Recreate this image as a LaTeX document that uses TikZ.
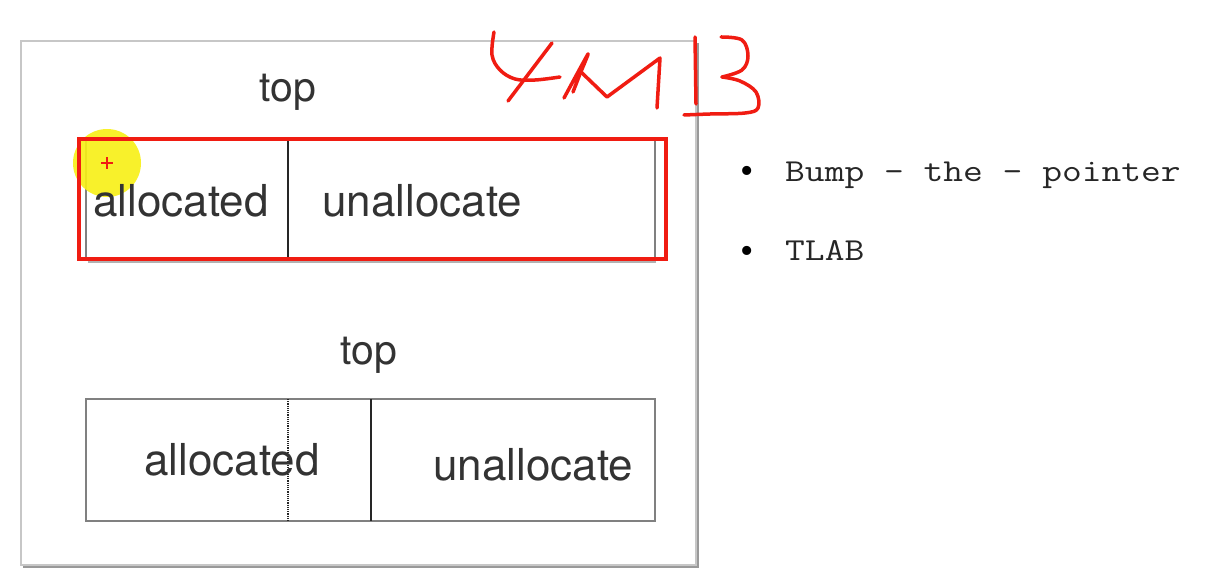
\documentclass[tikz,border=0pt]{standalone}
\usepackage{fontspec}
\setmainfont{TeX Gyre Heros}
\newfontfamily\serf{Liberation Serif}
\definecolor{inkred}{RGB}{240,28,18}
\definecolor{hiyel}{RGB}{248,240,20}
\begin{document}
\begin{tikzpicture}[x=1pt,y=-1pt,
  frame/.style={draw=black!22, line width=1.3pt},
  shadow/.style={draw=black!40, line width=2.2pt},
  cell/.style={draw=black!50, line width=1.3pt},
  divider/.style={draw=black!85, line width=1.2pt},
  hand/.style={draw=inkred, line width=3.5pt, line cap=round, line join=round},
  redbox/.style={draw=inkred, line width=3.5pt},
  lbl/.style={font=\fontsize{44}{44}\selectfont, text=black!80, inner sep=0pt, anchor=base west},
  toplbl/.style={font=\fontsize{41}{41}\selectfont, text=black!80, inner sep=0pt, anchor=base},
  bul/.style={font=\serf\fontsize{38}{38}\selectfont, inner sep=0pt, anchor=base},
  item/.style={font=\ttfamily\fontsize{32}{32}\selectfont, text=black!85, inner sep=0pt, anchor=base west}]
\useasboundingbox (0,0) rectangle (1229,586);
\fill[white] (0,0) rectangle (1229,586);

% outer frame with shadow
\draw[shadow] (23,567) -- (698,567) -- (698,43);
\draw[frame] (21,41) rectangle (696,565);

% first memory block
\draw[shadow, draw=black!30, line width=1.6pt] (88,262) -- (656,262);
\draw[cell] (86,140) rectangle (655,260);
\draw[divider] (288,140) -- (288,260);
\fill[hiyel, opacity=0.9] (107,163) circle (34);
\node[lbl] (alloc1) at (93,216) {allocated};
\node[lbl] (unalloc1) at (322,216) {unallocate};
\node[toplbl] (top1) at (288,101) {top};
\draw[redbox] (79,139) rectangle (666,259);
\draw[inkred, line width=1.4pt] (101,163) -- (113,163) (107,157) -- (107,169);

% second memory block
\draw[cell] (86,399) rectangle (655,521);
\draw[divider, densely dotted, line width=1.1pt] (288,399) -- (288,521);
\draw[divider] (371,399) -- (371,521);
\node[lbl] (alloc2) at (144,475) {allocated};
\node[lbl] (unalloc2) at (433,480) {unallocate};
\node[toplbl] (top2) at (369,364) {top};

% bullets
\node[bul] (b1) at (747,183) {•};
\node[item] (i1) at (785,181) {\scalebox{1.2}[1]{Bump - the - pointer}};
\node[bul] (b2) at (747,263) {•};
\node[item] (i2) at (785,260) {\scalebox{1.2}[1]{TLAB}};

% handwriting
\draw[hand] plot[smooth, tension=0.6] coordinates {(494,32) (492,55) (500,70) (515,79) (535,80) (560,77)};
\draw[hand] (552,43) -- (508,101);
\draw[hand] plot[smooth, tension=0.3] coordinates {(564,98) (588,54) (580,74) (573,92)};
\draw[hand] (581,72) -- (607,97) -- (660,58) -- (657,108);
\draw[hand] (695,37) -- (696,104);
\draw[hand] plot[smooth, tension=0.6] coordinates {(721,37) (742,40) (748,56) (742,70) (722,77)};
\draw[hand] plot[smooth, tension=0.6] coordinates {(722,77) (740,81) (756,92) (758,108) (745,113) (710,114) (684,115)};
\end{tikzpicture}
\end{document}
